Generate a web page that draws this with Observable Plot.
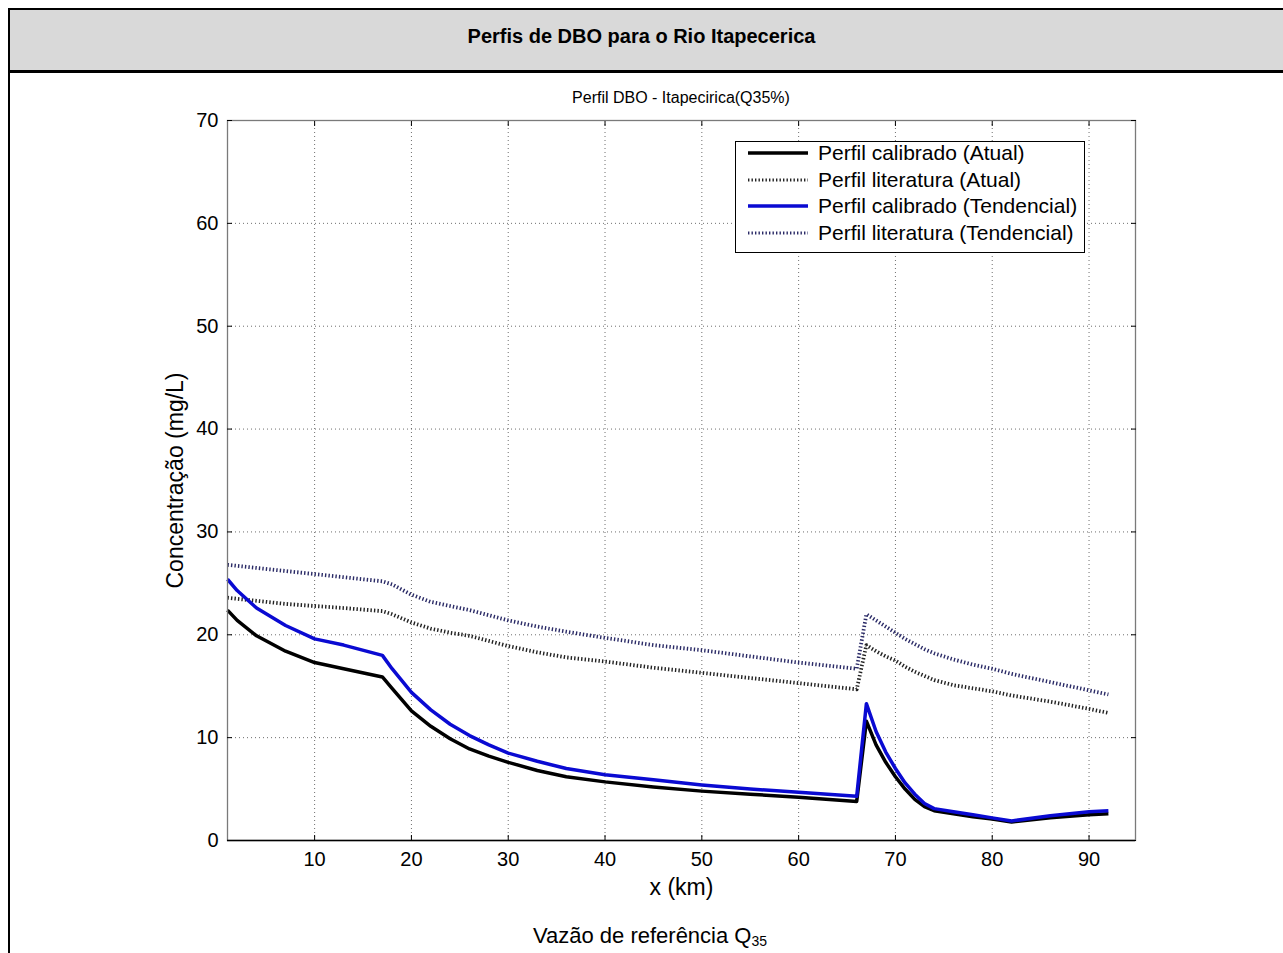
<!DOCTYPE html>
<html><head><meta charset="utf-8">
<script src="https://cdn.jsdelivr.net/npm/d3@7"></script>
<script src="https://cdn.jsdelivr.net/npm/@observablehq/plot@0.6"></script>
<style>
html,body{margin:0;padding:0;background:#fff;}
body{width:1283px;height:953px;overflow:hidden;position:relative;font-family:"Liberation Sans",Arial,sans-serif;color:#000;}
#frame{position:absolute;left:8px;top:8px;width:1300px;height:960px;border-left:2px solid #000;border-top:2px solid #000;}
#header{position:absolute;left:10px;top:10px;width:1290px;height:60px;background:#d9d9d9;border-bottom:3px solid #000;}
#title{position:absolute;left:0;top:24px;width:1283px;text-align:center;font-weight:bold;font-size:20px;line-height:24px;}
#subtitle{position:absolute;left:0;top:89px;width:1362px;text-align:center;font-size:16px;line-height:18px;}
#chart{position:absolute;left:0;top:110px;}
#caption{position:absolute;left:0;top:924px;width:1300px;text-align:center;font-size:22px;line-height:24px;}
#caption sub{font-size:14px;vertical-align:-3px;line-height:0;}
#legend{position:absolute;left:735px;top:141px;width:350px;height:112px;border:1px solid #000;background:#fff;box-sizing:border-box;}
.row{position:absolute;left:0;height:26px;display:flex;align-items:center;font-size:21px;white-space:nowrap;}
.row svg{margin-left:12px;margin-right:10px;}
</style></head>
<body>
<div id="frame"></div>
<div id="header"></div>
<div id="title">Perfis de DBO para o Rio Itapecerica</div>
<div id="subtitle">Perfil DBO - Itapecirica(Q35%)</div>
<div id="chart"></div>
<div id="legend"></div>
<div id="caption">Vazão de referência Q<sub>35</sub></div>
<script>
// distance along river (km)
const xKm = [1, 2, 4, 7, 10, 13, 17, 18, 20, 22, 24, 26, 28, 30, 33, 36, 40, 45, 50, 55, 60, 66, 67, 68, 69, 70, 71, 72, 73, 74, 76, 78, 80, 82, 86, 90, 92];
// Perfil calibrado (Atual)
const calibAtual = [22.4, 21.4, 19.9, 18.4, 17.3, 16.7, 15.9, 14.8, 12.6, 11.1, 9.9, 8.9, 8.2, 7.6, 6.8, 6.2, 5.7, 5.2, 4.8, 4.5, 4.2, 3.8, 11.6, 9.3, 7.6, 6.2, 5.0, 4.0, 3.3, 2.9, 2.6, 2.3, 2.1, 1.8, 2.2, 2.5, 2.6];
// Perfil literatura (Atual)
const literAtual = [23.6, 23.5, 23.3, 23.0, 22.8, 22.6, 22.3, 22.0, 21.2, 20.6, 20.2, 19.9, 19.4, 18.9, 18.3, 17.8, 17.4, 16.8, 16.3, 15.8, 15.3, 14.7, 19.0, 18.4, 17.9, 17.5, 16.9, 16.4, 16.0, 15.6, 15.1, 14.8, 14.5, 14.1, 13.5, 12.8, 12.4];
// Perfil calibrado (Tendencial)
const calibTend = [25.4, 24.3, 22.6, 20.9, 19.6, 19.0, 18.0, 16.7, 14.4, 12.7, 11.3, 10.2, 9.3, 8.5, 7.7, 7.0, 6.4, 5.9, 5.4, 5.0, 4.7, 4.3, 13.3, 10.6, 8.6, 7.0, 5.6, 4.5, 3.6, 3.1, 2.8, 2.5, 2.2, 1.9, 2.4, 2.8, 2.9];
// Perfil literatura (Tendencial)
const literTend = [26.8, 26.7, 26.5, 26.2, 25.9, 25.6, 25.2, 24.9, 23.9, 23.2, 22.8, 22.4, 21.9, 21.4, 20.8, 20.3, 19.7, 19.0, 18.5, 17.9, 17.3, 16.7, 22.0, 21.4, 20.8, 20.2, 19.6, 19.1, 18.6, 18.2, 17.6, 17.1, 16.7, 16.2, 15.4, 14.6, 14.2];

const seriesNames = ["Perfil calibrado (Atual)", "Perfil literatura (Atual)", "Perfil calibrado (Tendencial)", "Perfil literatura (Tendencial)"];
const seriesValues = [calibAtual, literAtual, calibTend, literTend];
const seriesColors = ["#000000", "#222222", "#0a0ad2", "#2a2a66"];
const seriesWidth = [3.5, 3.8, 3.5, 3.8];
const seriesDash = [null, "1.4,2.1", null, "1.4,2.1"];
const xTicks = [10, 20, 30, 40, 50, 60, 70, 80, 90];
const yTicks = [0, 10, 20, 30, 40, 50, 60, 70];

const rows = seriesValues.map((vals, s) => xKm.map((x, i) => ({x, y: vals[i], s})));
const drawOrder = [1, 3, 0, 2];

const gridStyle = {stroke: "#555", strokeOpacity: 0.85, strokeWidth: 1, strokeDasharray: "1,3"};

const chart = Plot.plot({
  width: 1283,
  height: 805,
  marginLeft: 227,
  marginRight: 148,
  marginTop: 10,
  marginBottom: 75,
  style: {fontFamily: "'Liberation Sans', Arial, sans-serif", fontSize: "20px", color: "#000", background: "transparent", overflow: "visible"},
  x: {domain: [1, 94.8]},
  y: {domain: [0, 70]},
  marks: [
    Plot.gridX(xTicks, gridStyle),
    Plot.gridY(yTicks, gridStyle),
    ...drawOrder.map(s => Plot.line(rows[s], {
      x: "x", y: "y",
      stroke: seriesColors[s],
      strokeWidth: seriesWidth[s],
      strokeDasharray: seriesDash[s],
      strokeLinejoin: "round",
      strokeLinecap: "butt"
    })),
    Plot.frame({stroke: "#7a7a7a", strokeWidth: 1.3}),
    Plot.ruleY([0], {stroke: "#000", strokeWidth: 1.3}),
    Plot.axisX(xTicks, {anchor: "bottom", tickSize: -5, tickPadding: 16, label: null, fontSize: 20}),
    Plot.axisX(xTicks, {anchor: "top", tickSize: -5, fill: "none", label: null}),
    Plot.axisY(yTicks, {anchor: "left", tickSize: -5, tickPadding: 14, label: null, fontSize: 20}),
    Plot.axisY(yTicks, {anchor: "right", tickSize: -5, fill: "none", label: null}),
    Plot.axisX([], {anchor: "bottom", label: "x (km)", labelAnchor: "center", labelArrow: "none", labelOffset: 54, tickSize: 0, fontSize: 23}),
    Plot.axisY([], {anchor: "left", label: "Concentração (mg/L)", labelAnchor: "center", labelArrow: "none", labelOffset: 61, tickSize: 0, fontSize: 23})
  ]
});
document.getElementById("chart").appendChild(chart);

// legend
const legend = document.getElementById("legend");
seriesNames.forEach((name, s) => {
  const row = document.createElement("div");
  row.className = "row";
  row.style.top = (-2 + s * 26.5) + "px";
  const svg = d3.create("svg").attr("width", 60).attr("height", 10);
  svg.append("line").attr("x1", 0).attr("x2", 60).attr("y1", 5).attr("y2", 5)
    .attr("stroke", seriesColors[s]).attr("stroke-width", s % 2 ? 3 : 3.5)
    .attr("stroke-dasharray", seriesDash[s]);
  row.appendChild(svg.node());
  const span = document.createElement("span");
  span.textContent = name;
  row.appendChild(span);
  legend.appendChild(row);
});
</script>
</body></html>
